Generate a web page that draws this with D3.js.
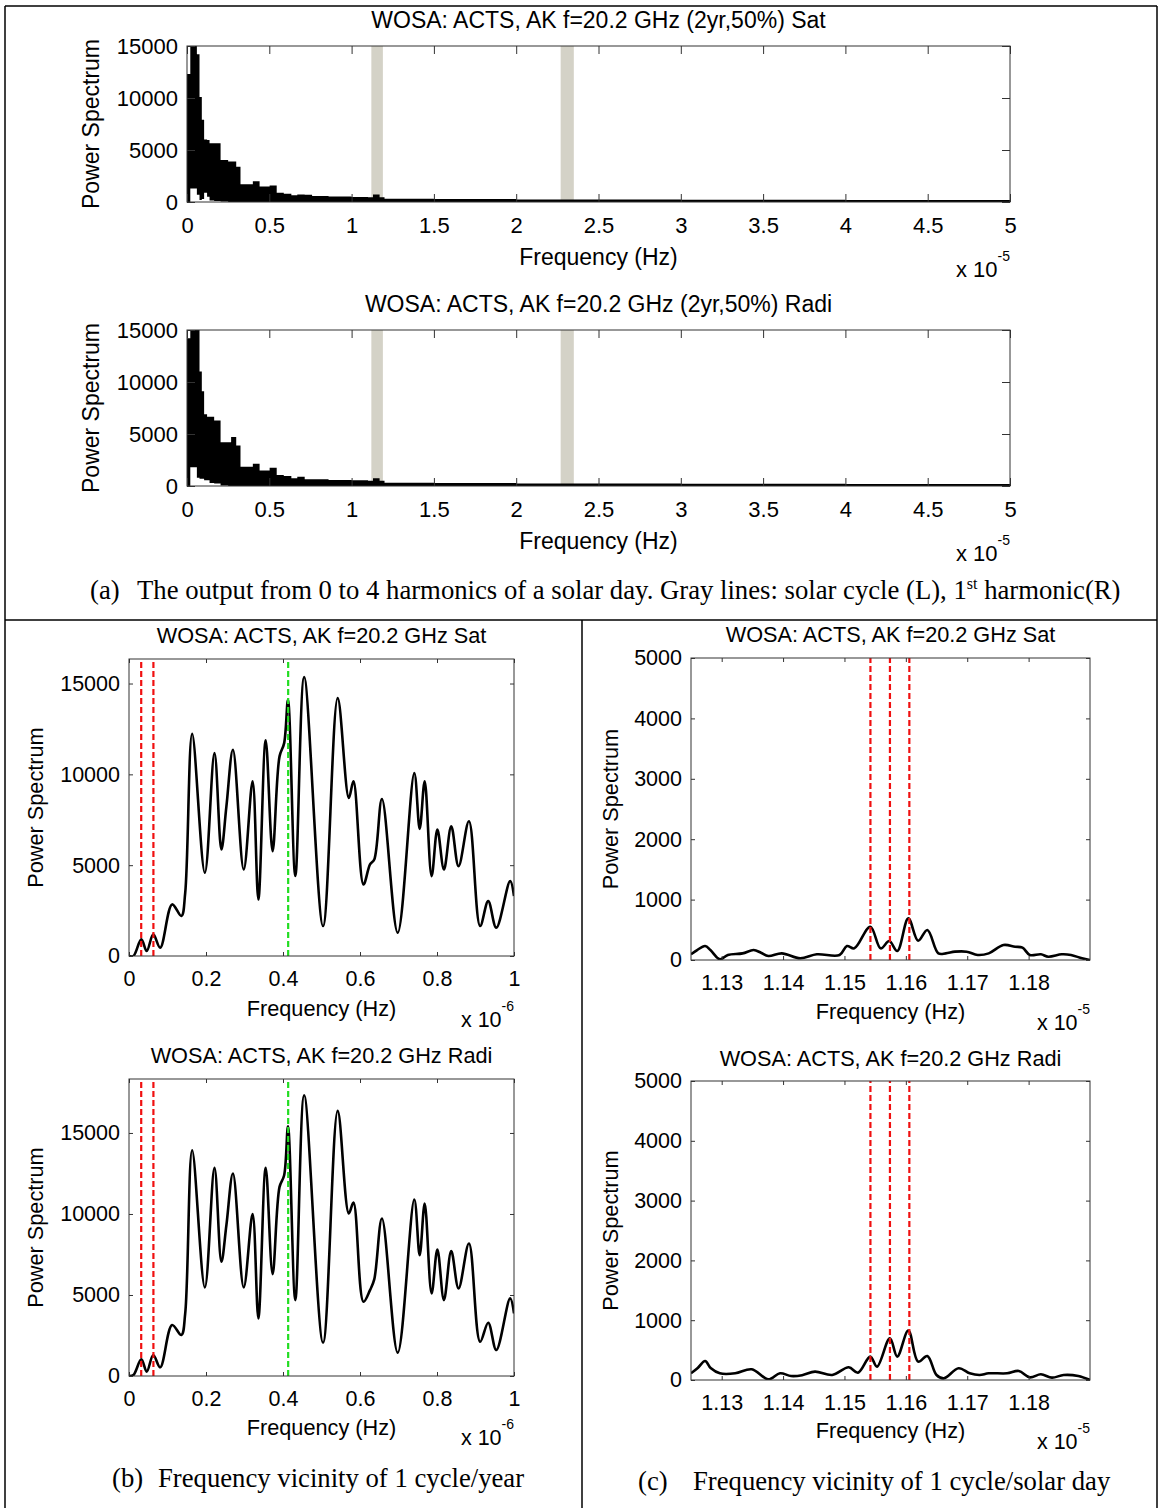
<!DOCTYPE html>
<html>
<head>
<meta charset="utf-8">
<script src="https://cdn.jsdelivr.net/npm/d3@7"></script>
<style>
  body { margin: 0; background: #fff; }
  svg text { font-family: "Liberation Sans", Arial, sans-serif; fill: #000; }
  svg text.cap { font-family: "Liberation Serif", "Times New Roman", serif; }
</style>
</head>
<body>
<svg id="fig" width="1162" height="1508"></svg>
<script>
// (a) full band spectra, x10^-5 Hz. step bins: upper / lower envelope of the dense trace
var topEdges = [0, 0.02, 0.06, 0.076, 0.09, 0.104, 0.122, 0.137, 0.165, 0.204,
  0.25, 0.268, 0.299, 0.325, 0.40, 0.441, 0.502, 0.545, 0.588, 0.634,
  0.67, 0.715, 0.76, 0.86, 1.0, 1.10, 1.13, 1.17, 1.20, 1.5,
  2.0, 2.5, 3.0, 3.5, 4.0, 4.5, 5.0];
var topSatHi = [12300, 15000, 14200, 10100, 7900, 6000, 5950, 5650, 5650, 4050,
  3900, 3900, 3400, 1700, 2000, 1500, 1580, 900, 800, 650,
  720, 700, 580, 520, 480, 450, 720, 450, 320, 280,
  250, 230, 220, 210, 200, 200];
var topSatLo = [0, 1300, 700, 200, 300, 900, 500, 150, 100, 50,
  0, 0, 0, 0, 0, 0, 0, 0, 0, 0,
  0, 0, 0, 0, 0, 0, 0, 0, 0, 0,
  0, 0, 0, 0, 0, 0];
var topRadiHi = [14200, 15000, 15000, 11000, 9100, 6900, 6650, 6650, 6300, 4200,
  4200, 4700, 3900, 1850, 2150, 1500, 1750, 1050, 950, 750,
  900, 640, 640, 570, 560, 500, 750, 500, 320, 280,
  250, 230, 220, 210, 200, 200];
var topRadiLo = [0, 1800, 800, 700, 700, 550, 550, 300, 250, 50,
  0, 0, 0, 0, 0, 0, 0, 0, 0, 0,
  0, 0, 0, 0, 0, 0, 0, 0, 0, 0,
  0, 0, 0, 0, 0, 0];
var grayBands = [[1.12, 1.19], [2.27, 2.35]];
var topXTicks = [0, 0.5, 1, 1.5, 2, 2.5, 3, 3.5, 4, 4.5, 5];
var topYTicks = [0, 5000, 10000, 15000];

// (b) vicinity of 1 cycle/year, x10^-6 Hz
var yearFreq = [0, 0.0115, 0.032, 0.046, 0.063, 0.081, 0.112, 0.136, 0.146, 0.164,
  0.197, 0.222, 0.240, 0.253, 0.270, 0.298, 0.321, 0.336, 0.355, 0.373,
  0.391, 0.403, 0.413, 0.432, 0.455, 0.504, 0.542, 0.571, 0.583, 0.609,
  0.626, 0.637, 0.657, 0.698, 0.741, 0.755, 0.768, 0.786, 0.801, 0.818,
  0.837, 0.856, 0.883, 0.912, 0.933, 0.954, 0.990, 1.0];
var yearSat = [0, 0, 916, 275, 1190, 458, 2840, 2200, 3480, 12235,
  4580, 11170, 5860, 8240, 11355, 4760, 9615, 3110, 11870, 5770,
  10990, 11720, 14100, 4400, 15350, 1650, 14195, 8700, 9615, 3940,
  5040, 5310, 8645, 1280, 10070, 7000, 9615, 4395, 6960, 4760,
  7140, 4945, 7418, 1650, 3020, 1560, 4120, 3300];
var yearRadi = [0, 60, 1030, 270, 1295, 535, 3145, 2530, 3865, 13935,
  5470, 12845, 7050, 9310, 12495, 5470, 9990, 3555, 12845, 6290,
  11670, 12390, 15415, 4685, 17325, 2055, 16360, 10030, 10710, 4585,
  5300, 5960, 9720, 1440, 10890, 7460, 10645, 5100, 7810, 4685,
  7705, 5405, 8180, 2115, 3290, 1600, 4790, 3865];
var yearRedLines = [0.0317, 0.0634];
var yearGreenLines = [0.4134];
var yearXTicks = [0, 0.2, 0.4, 0.6, 0.8, 1];
var yearYTicks = [0, 5000, 10000, 15000];

// (c) vicinity of 1 cycle/solar day, x10^-5 Hz
var daySatFreq = [1.125, 1.1260, 1.1273, 1.1282, 1.1297, 1.1310, 1.1334, 1.1352, 1.1364, 1.1376,
  1.1398, 1.1428, 1.1455, 1.1492, 1.1504, 1.1516, 1.1542, 1.1559, 1.1573, 1.1586,
  1.1604, 1.1620, 1.1635, 1.1653, 1.1665, 1.1680, 1.1699, 1.1717, 1.1735, 1.1759,
  1.1778, 1.1790, 1.1802, 1.1820, 1.1832, 1.1854, 1.1869, 1.1887, 1.19];
var daySat = [94, 165, 232, 160, 11, 83, 110, 165, 121, 66,
  110, 28, 94, 83, 232, 193, 551, 193, 314, 149,
  689, 320, 496, 110, 110, 138, 138, 83, 110, 248,
  220, 204, 83, 94, 55, 94, 83, 28, 0];
var dayRadiFreq = [1.125, 1.1261, 1.1273, 1.1282, 1.1297, 1.1322, 1.1349, 1.1376, 1.1395, 1.1413,
  1.1431, 1.1452, 1.1480, 1.1507, 1.1522, 1.1542, 1.1553, 1.1574, 1.1586, 1.1604,
  1.1620, 1.1635, 1.1650, 1.1662, 1.1686, 1.1704, 1.1720, 1.1735, 1.1765, 1.1784,
  1.1802, 1.1820, 1.1838, 1.1857, 1.1881, 1.19];
var dayRadi = [112, 200, 318, 200, 112, 112, 179, 11, 112, 67,
  80, 140, 84, 212, 123, 391, 223, 698, 391, 827,
  307, 402, 84, 28, 196, 112, 84, 112, 112, 151,
  45, 95, 39, 84, 67, 0];
var dayRedLines = [1.15423, 1.15741, 1.16057];
var dayXTicks = [1.13, 1.14, 1.15, 1.16, 1.17, 1.18];
var dayYTicks = [0, 1000, 2000, 3000, 4000, 5000];

var titles = [
  'WOSA: ACTS, AK f=20.2 GHz (2yr,50%) Sat',
  'WOSA: ACTS, AK f=20.2 GHz (2yr,50%) Radi',
  'WOSA: ACTS, AK f=20.2 GHz Sat',
  'WOSA: ACTS, AK f=20.2 GHz Radi'
];

var svg = d3.select('#fig');
var clipCount = 0;

// table borders
var borders = [[5, 6, 1157, 6], [5, 6, 5, 1508], [1157, 6, 1157, 1508], [5, 620, 1157, 620], [582, 620, 582, 1508]];
svg.selectAll('line.border').data(borders).enter().append('line')
  .attr('class', 'border')
  .attr('x1', function (d) { return d[0]; }).attr('y1', function (d) { return d[1]; })
  .attr('x2', function (d) { return d[2]; }).attr('y2', function (d) { return d[3]; })
  .attr('stroke', '#000').attr('stroke-width', 1.5);

function makePanel(p) {
  var b = p.box;
  var x = d3.scaleLinear().domain(p.x).range([b[0], b[2]]);
  var y = d3.scaleLinear().domain(p.y).range([b[3], b[1]]);
  var id = 'clip' + (clipCount++);

  svg.append('clipPath').attr('id', id).append('rect')
    .attr('x', b[0]).attr('y', b[1]).attr('width', b[2] - b[0]).attr('height', b[3] - b[1]);

  var plot = svg.append('g').attr('clip-path', 'url(#' + id + ')');
  var frame = svg.append('g');
  var fmt = d3.format('~g');

  frame.append('g').attr('transform', 'translate(0,' + b[3] + ')')
    .call(d3.axisBottom(x).tickValues(p.xt).tickSizeInner(-p.tick).tickSizeOuter(0).tickPadding(15).tickFormat(fmt));
  frame.append('g').attr('transform', 'translate(0,' + b[1] + ')')
    .call(d3.axisTop(x).tickValues(p.xt).tickSizeInner(-p.tick).tickSizeOuter(0).tickFormat(''));
  frame.append('g').attr('transform', 'translate(' + b[0] + ',0)')
    .call(d3.axisLeft(y).tickValues(p.yt).tickSizeInner(-p.tick).tickSizeOuter(0).tickPadding(9).tickFormat(fmt));
  frame.append('g').attr('transform', 'translate(' + b[2] + ',0)')
    .call(d3.axisRight(y).tickValues(p.yt).tickSizeInner(-p.tick).tickSizeOuter(0).tickFormat(''));

  frame.selectAll('.domain').remove();
  frame.selectAll('.tick line').attr('stroke', '#333');
  frame.selectAll('g').attr('font-family', null).attr('font-size', null);
  frame.selectAll('.tick text').style('font-size', p.tickFs + 'px');

  frame.append('rect')
    .attr('x', b[0]).attr('y', b[1]).attr('width', b[2] - b[0]).attr('height', b[3] - b[1])
    .attr('fill', 'none').attr('stroke', '#333').attr('stroke-width', 1);

  var cx = (b[0] + b[2]) / 2;
  svg.append('text').attr('x', cx).attr('y', p.titleY).attr('text-anchor', 'middle')
    .style('font-size', p.fs + 'px').text(p.title);
  svg.append('text').attr('x', cx).attr('y', b[3] + p.xlabDy).attr('text-anchor', 'middle')
    .style('font-size', p.fs + 'px').text('Frequency (Hz)');
  svg.append('text')
    .attr('transform', 'translate(' + p.ylabX + ',' + (b[1] + b[3]) / 2 + ') rotate(-90)')
    .attr('text-anchor', 'middle').style('font-size', p.fs + 'px').text('Power Spectrum');

  var ex = svg.append('text').attr('x', b[2]).attr('y', b[3] + p.xlabDy + p.expDy)
    .attr('text-anchor', 'end').style('font-size', p.tickFs + 'px');
  ex.append('tspan').text('x 10');
  ex.append('tspan').attr('dy', -16).style('font-size', '14px').text(p.exp);

  return { x: x, y: y, plot: plot };
}

function drawEnvelope(pn, hi, lo) {
  var pts = topEdges.map(function (e, i) {
    var k = Math.min(i, hi.length - 1);
    return { f: e, hi: hi[k], lo: lo[k] };
  });
  grayBands.forEach(function (g) {
    pn.plot.append('rect')
      .attr('x', pn.x(g[0])).attr('width', pn.x(g[1]) - pn.x(g[0]))
      .attr('y', pn.y.range()[1]).attr('height', pn.y.range()[0] - pn.y.range()[1])
      .attr('fill', '#d4d2c7');
  });
  pn.plot.append('path').datum(pts)
    .attr('fill', '#000')
    .attr('d', d3.area().curve(d3.curveStepAfter)
      .x(function (d) { return pn.x(d.f); })
      .y0(function (d) { return pn.y(d.lo); })
      .y1(function (d) { return pn.y(d.hi); }));
}

function drawCurve(pn, freq, vals, red, green) {
  var line = d3.line().curve(d3.curveCatmullRom.alpha(0.5))
    .x(function (d, i) { return pn.x(freq[i]); })
    .y(function (d) { return pn.y(d); });
  pn.plot.append('path').datum(vals)
    .attr('fill', 'none').attr('stroke', '#000').attr('stroke-width', 2.6)
    .attr('stroke-linejoin', 'round').attr('d', line);

  function vlines(list, color) {
    pn.plot.selectAll(null).data(list).enter().append('line')
      .attr('x1', function (d) { return pn.x(d); }).attr('x2', function (d) { return pn.x(d); })
      .attr('y1', pn.y.range()[0]).attr('y2', pn.y.range()[1])
      .attr('stroke', color).attr('stroke-width', 2.2).attr('stroke-dasharray', '6,3');
  }
  vlines(red, '#f01010');
  vlines(green || [], '#22dd22');
}

var a1 = makePanel({ title: titles[0], box: [187, 46, 1010, 202], x: [0, 5], y: [0, 15000],
  xt: topXTicks, yt: topYTicks, tick: 8, titleY: 28, xlabDy: 63, ylabX: 99, exp: '-5', expDy: 12,
  fs: 23, tickFs: 22 });
drawEnvelope(a1, topSatHi, topSatLo);

var a2 = makePanel({ title: titles[1], box: [187, 330, 1010, 486], x: [0, 5], y: [0, 15000],
  xt: topXTicks, yt: topYTicks, tick: 8, titleY: 312, xlabDy: 63, ylabX: 99, exp: '-5', expDy: 12,
  fs: 23, tickFs: 22 });
drawEnvelope(a2, topRadiHi, topRadiLo);

var b1 = makePanel({ title: titles[2], box: [129, 659, 514, 956], x: [0, 1], y: [0, 16350],
  xt: yearXTicks, yt: yearYTicks, tick: 4, titleY: 643, xlabDy: 60, ylabX: 43, exp: '-6', expDy: 11,
  fs: 21.7, tickFs: 21.5 });
drawCurve(b1, yearFreq, yearSat, yearRedLines, yearGreenLines);

var b2 = makePanel({ title: titles[3], box: [129, 1079, 514, 1376], x: [0, 1], y: [0, 18330],
  xt: yearXTicks, yt: yearYTicks, tick: 4, titleY: 1063, xlabDy: 59, ylabX: 43, exp: '-6', expDy: 10,
  fs: 21.7, tickFs: 21.5 });
drawCurve(b2, yearFreq, yearRadi, yearRedLines, yearGreenLines);

var c1 = makePanel({ title: titles[2], box: [691, 658, 1090, 960], x: [1.125, 1.19], y: [0, 5000],
  xt: dayXTicks, yt: dayYTicks, tick: 4, titleY: 642, xlabDy: 59, ylabX: 618, exp: '-5', expDy: 11,
  fs: 21.7, tickFs: 21.5 });
drawCurve(c1, daySatFreq, daySat, dayRedLines);

var c2 = makePanel({ title: titles[3], box: [691, 1081, 1090, 1380], x: [1.125, 1.19], y: [0, 5000],
  xt: dayXTicks, yt: dayYTicks, tick: 4, titleY: 1066, xlabDy: 58, ylabX: 618, exp: '-5', expDy: 11,
  fs: 21.7, tickFs: 21.5 });
drawCurve(c2, dayRadiFreq, dayRadi, dayRedLines);

// captions
var capSize = 26.7;
function caption(lx, tx, y, label, parts) {
  svg.append('text').attr('class', 'cap').attr('x', lx).attr('y', y)
    .style('font-size', capSize + 'px').text(label);
  var t = svg.append('text').attr('class', 'cap').attr('x', tx).attr('y', y)
    .style('font-size', capSize + 'px');
  parts.forEach(function (p) {
    var s = t.append('tspan').text(p.text);
    if (p.sup) s.attr('dy', -10).style('font-size', '16px');
    if (p.down) s.attr('dy', 10);
  });
}
caption(90, 137, 599, '(a)', [
  { text: 'The output from 0 to 4 harmonics of a solar day. Gray lines: solar cycle (L), 1' },
  { text: 'st', sup: true },
  { text: ' harmonic(R)', down: true }
]);
caption(112, 158, 1487, '(b)', [{ text: 'Frequency vicinity of 1 cycle/year' }]);
caption(638, 693, 1490, '(c)', [{ text: 'Frequency vicinity of 1 cycle/solar day' }]);
</script>
</body>
</html>
